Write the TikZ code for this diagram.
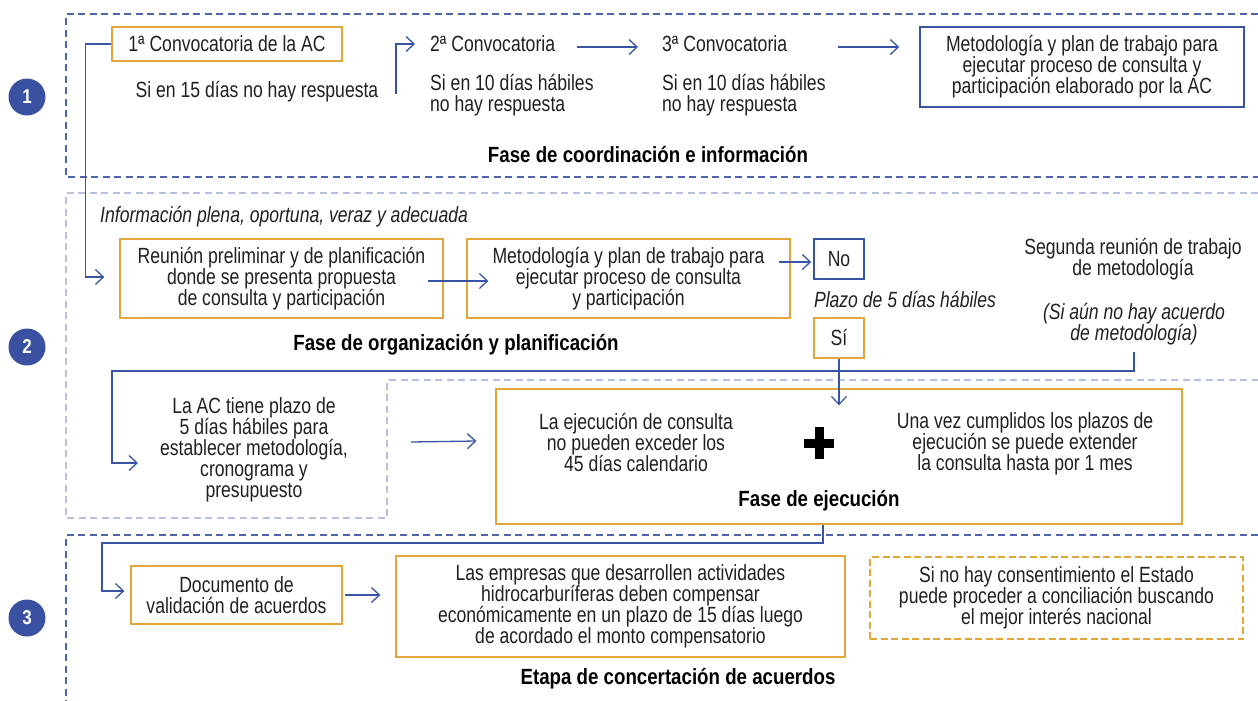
\documentclass[tikz,border=0pt]{standalone}
\usepackage{fontspec}
\setmainfont{Liberation Sans}[FakeStretch=0.80]
\newfontfamily\titlefont{Liberation Sans}[FakeStretch=0.85]
\usetikzlibrary{arrows.meta,calc}
\definecolor{cblue}{RGB}{58,84,165}
\definecolor{corange}{RGB}{226,166,58}
\definecolor{clav}{RGB}{185,191,224}
\definecolor{ctext}{RGB}{35,31,32}
\definecolor{cbadge}{RGB}{57,81,160}
\begin{document}
\begin{tikzpicture}[x=1pt,y=-1pt,
  every node/.style={font=\fontsize{22}{21}\selectfont, text=ctext, inner sep=0pt, align=center},
  ital/.style={font=\fontsize{22}{21}\selectfont\itshape},
  title/.style={font=\titlefont\bfseries\fontsize{22}{21}\selectfont, text=black},
  obox/.style={draw=corange, line width=1.3pt},
  obdash/.style={draw=corange, line width=1.3pt, dash pattern=on 7pt off 3.5pt},
  bbox/.style={draw=cblue, line width=1.5pt},
  conn/.style={draw=cblue, line width=1.3pt, -{Straight Barb[length=8pt,width=15pt]}},
  secdark/.style={draw=cblue!90, line width=1.3pt, dash pattern=on 7pt off 4.5pt},
  seclight/.style={draw=clav, line width=1.3pt, dash pattern=on 7pt off 4.5pt},
  badge/.style={circle, fill=cbadge, minimum size=37pt, text=white, font=\titlefont\bfseries\fontsize{20}{20}\selectfont}
]
\useasboundingbox (0,0) rectangle (1258,701);

% section outlines
\draw[secdark] (1258,14) -- (66,14) -- (66,177) -- (1258,177);
\draw[seclight] (1258,193) -- (66,193) -- (66,518) -- (387,518) -- (387,380) -- (1258,380);
\draw[secdark] (1258,535) -- (66,535) -- (66,701);

% badges
\node[badge] (b1) at (27,97) {1};
\node[badge] (b2) at (27,347) {2};
\node[badge] (b3) at (27,618) {3};

% section 1
\node[obox, minimum width=230pt, minimum height=34pt] (conv1) at (227,44) {1ª Convocatoria de la AC};
\node (t15) at (257,92) {Si en 15 días no hay respuesta};
\node[anchor=west] (conv2) at (430,44) {2ª Convocatoria};
\node[anchor=west, align=left] (t10a) at (430,95) {Si en 10 días hábiles\\no hay respuesta};
\node[anchor=west] (conv3) at (662,44) {3ª Convocatoria};
\node[anchor=west, align=left] (t10b) at (662,95) {Si en 10 días hábiles\\no hay respuesta};
\node[bbox, minimum width=324pt, minimum height=80pt] (metAC) at (1082,67) {Metodología y plan de trabajo para\\ejecutar proceso de consulta y\\participación elaborado por la AC};
\node[title] (fase1) at (648,155) {Fase de coordinación e información};

% section 2
\node[ital, anchor=west] (info) at (100,217) {Información plena, oportuna, veraz y adecuada};
\node[obox, minimum width=323pt, minimum height=79pt] (reu) at (281.5,278.5) {Reunión preliminar y de planificación\\donde se presenta propuesta\\de consulta y participación};
\node[obox, minimum width=323pt, minimum height=79pt] (met2) at (628.5,278.5) {Metodología y plan de trabajo para\\ejecutar proceso de consulta\\y participación};
\node[bbox, minimum width=50pt, minimum height=40pt] (no) at (839,259) {No};
\node[ital] (plazo) at (905,300) {Plazo de 5 días hábiles};
\node[obox, minimum width=50pt, minimum height=40pt] (si) at (839,338) {Sí};
\node[title] (fase2) at (456,345) {Fase de organización y planificación};
\node (seg) at (1133,259) {Segunda reunión de trabajo\\de metodología};
\node[ital] (siaun) at (1134,324) {(Si aún no hay acuerdo\\de metodología)};
\node (lac) at (254,450) {La AC tiene plazo de\\5 días hábiles para\\establecer metodología,\\cronograma y\\presupuesto};

% execution phase
\node[obox, minimum width=686pt, minimum height=135pt] (ejec) at (839,456.5) {};
\node (ejL) at (636,443) {La ejecución de consulta\\no pueden exceder los\\45 días calendario};
\node (plus) at (819,443) {};
\draw[line width=9pt, black] ([xshift=-15pt]plus.center) -- ([xshift=15pt]plus.center);
\draw[line width=9pt, black] ([yshift=16pt]plus.center) -- ([yshift=-16pt]plus.center);
\node (ejR) at (1025,444) {Una vez cumplidos los plazos de\\ejecución se puede extender\\la consulta hasta por 1 mes};
\node[title] (fase3) at (819,501) {Fase de ejecución};

% section 3
\node[obox, minimum width=211pt, minimum height=58pt] (doc) at (236.5,595) {Documento de\\validación de acuerdos};
\node[obox, minimum width=449pt, minimum height=101pt] (emp) at (620.5,606.5) {Las empresas que desarrollen actividades\\hidrocarburíferas deben compensar\\económicamente en un plazo de 15 días luego\\de acordado el monto compensatorio};
\node[obdash, minimum width=373pt, minimum height=82pt] (cons) at (1056.5,598) {Si no hay consentimiento el Estado\\puede proceder a conciliación buscando\\el mejor interés nacional};
\node[title] (etapa) at (678,679) {Etapa de concertación de acuerdos};

% connectors
\coordinate (c1) at (112,371);
\coordinate (lacin) at (138,463);
\coordinate (c2) at (102,543);

\draw[conn] (conv1.west) -- ++(-26,0) |- ([xshift=-15pt,yshift=1.5pt]reu.west);
\draw[conn] ([xshift=-34pt,yshift=-50pt]conv2.west) |- ([xshift=-15pt]conv2.west);
\draw[conn] ([xshift=-85pt,yshift=-3pt]conv3.west) -- ([xshift=-24pt,yshift=-3pt]conv3.west);
\draw[conn] ([xshift=176pt,yshift=-3pt]conv3.west) -- ([xshift=-20pt,yshift=20pt]metAC.west);
\draw[conn] ([xshift=-16pt,yshift=-2.5pt]reu.east) -- ([xshift=22pt,yshift=-2.5pt]met2.west);
\draw[conn] ($(met2.east |- no.west)+(-12,3)$) -- ($(no.west)+(-2,3)$);
\draw[conn] (si.south) -- ([yshift=-17pt]ejec.north);
\draw[conn] ($(siaun.south)+(0,7)$) |- (c1) |- (lacin);
\draw[conn] ([xshift=63pt,yshift=8pt]lac.east) -- ([xshift=-19pt,yshift=15.5pt]ejec.west);
\draw[conn] ([xshift=-16pt]ejec.south) |- (c2) |- ([xshift=-6pt,yshift=4pt]doc.west);
\draw[conn] ($(doc.east)+(2,0)$) -- ($(emp.west |- doc.east)+(-15,0)$);
\end{tikzpicture}
\end{document}
